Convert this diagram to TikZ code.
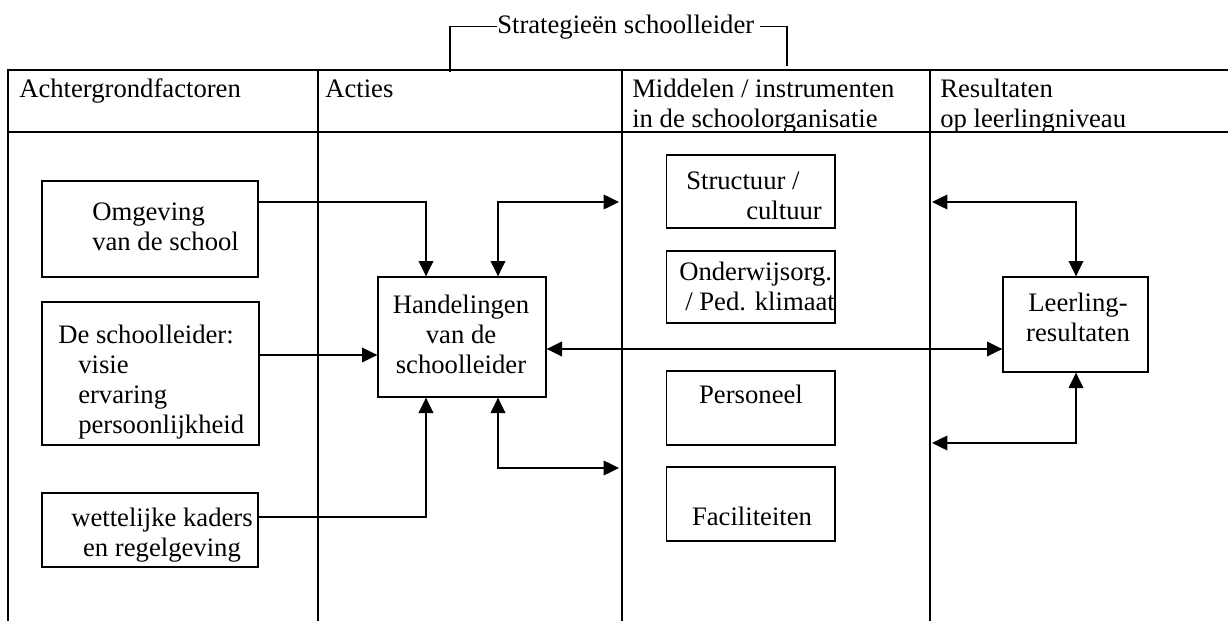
\documentclass[tikz,border=0pt]{standalone}
\usepackage{fontspec}
\setmainfont{Liberation Serif}
\usepackage{tikz}
\usetikzlibrary{arrows.meta,positioning,calc}
\definecolor{ink}{HTML}{000000}
\newcommand{\figfont}{\fontsize{20}{22.5}\selectfont}
\tikzset{
  gridline/.style={draw=ink,line width=1pt},
  box/.style={draw=ink,line width=1pt,inner sep=0pt},
  txt/.style={font=\figfont,text=ink,inner sep=0pt,align=left},
  ctxt/.style={font=\figfont,text=ink,inner sep=0pt,align=center},
  arr/.style={-{Triangle[length=11.5pt,width=11pt]},line width=1pt,
              draw=ink},
  dblarr/.style={{Triangle[length=11.5pt,width=11pt]}-{Triangle[length=11.5pt,width=11pt]},
                 line width=1pt,draw=ink}
}
\begin{document}
\begin{tikzpicture}[x=0.75pt,y=-0.75pt]
    \path[use as bounding box] (0,0) rectangle (1228,621);
    % table
    \draw[gridline] (1228,70) -- (8,70) -- (8,621);
    \draw[gridline] (8,132) -- (1228,132);
    \foreach \cx in {318,622,930}
      \draw[gridline] (\cx,70) -- (\cx,621);
    \node[txt,anchor=base west] (hdback) at (19,97) {Achtergrondfactoren};
    \node[txt,anchor=base west] (hdact) at (325,97) {Acties};
    \node[txt,anchor=base west] (hdmid) at (632,127)
      {Middelen / instrumenten\\in de schoolorganisatie};
    \node[txt,anchor=base west] (hdres) at (940,127)
      {Resultaten\\op leerlingniveau};
    % bracket
    \node[txt,anchor=base west] (strat) at (497,33) {Strategieën schoolleider};
    \coordinate (brackl) at (450,72);
    \coordinate (brackr) at (787,66);
    \draw[gridline] (brackl) |- (strat.west);
    \draw[gridline] ([xshift=4pt]strat.east) -| (brackr);
    % boxes
    \node[box,minimum width=162pt,minimum height=72pt] (omg) at (150,229) {};
    \node[box,minimum width=162.75pt,minimum height=107.25pt] (lead) at (150.5,373.5) {};
    \node[box,minimum width=162pt,minimum height=55.5pt] (law) at (150,530) {};
    \node[box,minimum width=126pt,minimum height=90pt] (hand) at (462,337) {};
    \node[box,minimum width=126.4pt,minimum height=54.75pt] (struc) at (750.75,191.5) {};
    \node[box,minimum width=126.4pt,minimum height=54pt] (ondw) at (750.75,287) {};
    \node[box,minimum width=126.4pt,minimum height=55.5pt] (pers) at (750.75,408) {};
    \node[box,minimum width=126.4pt,minimum height=55.5pt] (faci) at (750.75,504) {};
    \node[box,minimum width=108.75pt,minimum height=71.25pt] (leer) at (1075.5,324.5) {};
    % box texts
    \node[txt,anchor=base west] (omgt) at (92,250) {Omgeving\\van de school};
    \node[txt,anchor=base west] (leadt) at (58,433)
      {De schoolleider:\\\hspace*{15pt}visie\\\hspace*{15pt}ervaring\\
       \hspace*{15pt}persoonlijkheid};
    \node[ctxt,anchor=base] (lawt) at (162,556) {wettelijke kaders\\en regelgeving};
    \node[ctxt,anchor=base] (handt) at (461,373) {Handelingen\\van de\\schoolleider};
    \node[txt,anchor=base west] (struct) at (686,219) {Structuur /\\\hspace*{45pt}cultuur};
    \node[txt,anchor=base west] (ondwt) at (679,310)
      {Onderwijsorg.\\\hspace*{4.5pt}/ Ped. klimaat};
    \node[ctxt,anchor=base] (perst) at (751,403) {Personeel};
    \node[ctxt,anchor=base] (facit) at (752,525) {Faciliteiten};
    \node[ctxt,anchor=base] (leert) at (1078,341) {Leerling-\\resultaten};
    % connector levels
    \coordinate (rowtop) at (0,202);
    \coordinate (rowmid) at (0,349);
    \coordinate (rowlead) at (0,355);
    \coordinate (rowres) at (0,443);
    \coordinate (rowlow) at (0,468);
    \coordinate (rowlaw) at (0,517);
    \coordinate (colin) at (426,0);
    \coordinate (colout) at (498,0);
    \coordinate (midin) at (619,0);
    \coordinate (resin) at (932,0);
    \coordinate (colres) at (1076,0);
    % connectors
    \draw[arr] (omg.east |- rowtop) -| (hand.north -| colin);
    \draw[arr] (lead.east |- rowlead) -- (hand.west |- rowlead);
    \draw[arr] (law.east |- rowlaw) -| (hand.south -| colin);
    \draw[dblarr] (hand.north -| colout) |- (midin |- rowtop);
    \draw[dblarr] (hand.south -| colout) |- (midin |- rowlow);
    \draw[dblarr] (hand.east |- rowmid) -- (leer.west |- rowmid);
    \draw[dblarr] (leer.north -| colres) |- (resin |- rowtop);
    \draw[dblarr] (leer.south -| colres) |- (resin |- rowres);
\end{tikzpicture}
\end{document}
